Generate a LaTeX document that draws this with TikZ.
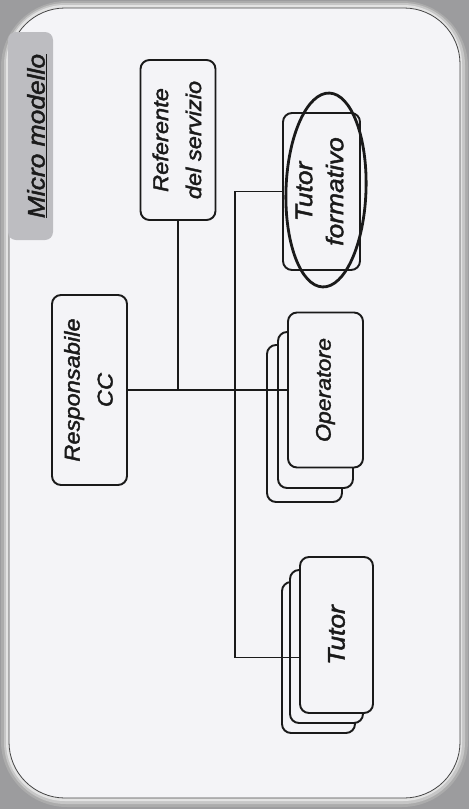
\documentclass[tikz,border=0pt]{standalone}
\usepackage{fontspec}
\setmainfont{Liberation Sans}
\newfontfamily\lab[FakeStretch=1.1, FakeBold=1.8]{Liberation Sans}
\usetikzlibrary{shapes.geometric}
\definecolor{ink}{HTML}{1A1A1A}
\definecolor{paper}{HTML}{F4F4F7}
\definecolor{scan}{HTML}{9C9C9E}
\definecolor{tabgray}{HTML}{BDBDC1}
\begin{document}
\begin{tikzpicture}[x=1pt,y=-1pt,
  box/.style={draw=ink, line width=1.9pt, fill=paper, rounded corners=9pt,
    minimum width=75pt, minimum height=156pt, inner sep=0pt},
  wire/.style={draw=ink, line width=1.4pt},
  lbl/.style={text=ink},
  tab/.style={fill=tabgray, rounded corners=8pt, minimum width=45pt, minimum height=208pt, inner sep=0pt}
]
\useasboundingbox (0,0) rectangle (469,809);
% scanned background and card
\fill[scan] (0,0) rectangle (469,809);
\fill[gray!65, rounded corners=66pt] (1,1) rectangle (468,807);
\fill[gray!45, rounded corners=62pt] (4,3) rectangle (465,804);
\fill[gray!22, rounded corners=59pt] (6,5) rectangle (462,801);
\fill[paper, rounded corners=56pt] (9,8) rectangle (460,798);
\draw[gray!55!black, line width=0.8pt, rounded corners=56pt] (9,8) rectangle (460,798);

% title tab
\node[tab] (title) at (30.5,136) {};
\node[lbl] (titletext) at (37,136)
  {\rotatebox{90}{\lab\fontsize{24}{30}\selectfont\itshape\underline{Micro modello}}};

% boxes
\node[box, minimum height=160pt, lbl] (ref) at (178,140)
  {\rotatebox{90}{\lab\fontsize{21.5}{33}\selectfont\itshape\begin{tabular}{@{}c@{}}Referente\\del servizio\end{tabular}}};
\node[box, minimum width=77pt, minimum height=157pt, lbl] (tf) at (321.5,191.5)
  {\rotatebox{90}{\lab\fontsize{24}{31}\selectfont\itshape\begin{tabular}{@{}c@{}}Tutor\\formativo\end{tabular}}};
\node[box, minimum height=190pt, lbl] (resp) at (89.5,390)
  {\rotatebox{90}{\lab\fontsize{21.5}{33}\selectfont\itshape\begin{tabular}{@{}c@{}}Responsabile\\CC\end{tabular}}};

% Operatore stack
\node[box, minimum height=157pt] (op3) at (304.5,423.5) {};
\node[box, minimum height=156pt] (op2) at (315.5,410) {};
% Tutor stack
\node[box, minimum height=151pt, minimum width=73pt] (tu3) at (318.5,657.5) {};
\node[box, minimum height=153pt, minimum width=73pt] (tu2) at (326.5,646.5) {};

% connectors
\coordinate (bus) at (235,0);
\draw[wire] (resp.east) -- (op3.west |- resp.east) -- ++(10,0) coordinate (opin);
\draw[wire] (ref.south) -- (ref.south |- resp.east);
\draw[wire] (tf.west) -- (tf.west -| bus) -- (bus |- tu3.west) coordinate (bend);
\draw[wire] (bend) -- ++(65,0);

% front boxes
\node[box, minimum height=155pt, lbl] (op) at (325.5,390)
  {\rotatebox{90}{\lab\fontsize{21}{30}\selectfont\itshape Operatore}};
\draw[wire] (opin) -- (op.west);
\node[box, minimum height=156pt, minimum width=73pt, lbl] (tu) at (336.5,635)
  {\rotatebox{90}{\lab\fontsize{24}{30}\selectfont\itshape Tutor}};

% hand-drawn ellipse
\node[draw=ink, line width=2.8pt, ellipse, minimum width=80pt, minimum height=194pt,
  inner sep=0pt, rotate=-2] (circ) at (326,190) {};
\end{tikzpicture}
\end{document}
